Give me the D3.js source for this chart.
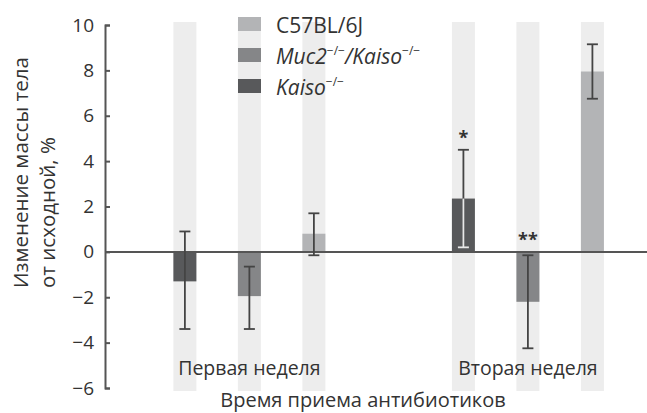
<!DOCTYPE html>
<html>
<head>
<meta charset="utf-8">
<script src="https://cdn.jsdelivr.net/npm/d3@7"></script>
<style>
  body { margin: 0; background: #fff; }
  svg { display: block; font-family: "Open Sans", sans-serif; }
</style>
</head>
<body>
<div id="chart"></div>
<script>
// data
const weeks = ["Первая неделя", "Вторая неделя"];
const series = ["Kaiso", "Muc2/Kaiso", "C57BL/6J"];
const meanKaiso = [-1.3, 2.35];
const meanMuc2Kaiso = [-1.95, -2.2];
const meanC57 = [0.8, 7.95];
const lowKaiso = [-3.4, 0.2];
const highKaiso = [0.9, 4.5];
const lowMuc2Kaiso = [-3.4, -4.25];
const highMuc2Kaiso = [-0.65, -0.15];
const lowC57 = [-0.15, 6.75];
const highC57 = [1.7, 9.15];
const starsKaiso = ["", "*"];
const starsMuc2Kaiso = ["", "**"];
const starsC57 = ["", ""];
const yTicks = [-6, -4, -2, 0, 2, 4, 6, 8, 10];

const colors = {"Kaiso": "#58595b", "Muc2/Kaiso": "#858688", "C57BL/6J": "#b3b4b6"};

const rows = [];
weeks.forEach((w, i) => {
  rows.push({week: w, s: "Kaiso", v: meanKaiso[i], lo: lowKaiso[i], hi: highKaiso[i], star: starsKaiso[i]});
  rows.push({week: w, s: "Muc2/Kaiso", v: meanMuc2Kaiso[i], lo: lowMuc2Kaiso[i], hi: highMuc2Kaiso[i], star: starsMuc2Kaiso[i]});
  rows.push({week: w, s: "C57BL/6J", v: meanC57[i], lo: lowC57[i], hi: highC57[i], star: starsC57[i]});
});

const width = 647, height = 413;
const marginLeft = 105, plotTop = 25, plotBottom = 388;
const barW = 23;

const svg = d3.select("#chart").append("svg")
  .attr("width", width)
  .attr("height", height);

const y = d3.scaleLinear().domain([-6, 10]).range([plotBottom, plotTop]);
const xg = d3.scalePoint().domain(weeks).range([marginLeft, width]).padding(0.473).align(0.548);
const xs = d3.scalePoint().domain(series).range([-64.5, 64.5]);
const cx = d => xg(d.week) + xs(d.s);

// background stripes
svg.append("g").selectAll("rect")
  .data(rows)
  .join("rect")
    .attr("x", d => cx(d) - barW / 2)
    .attr("y", y(10) - 3)
    .attr("width", barW)
    .attr("height", y(-6) - y(10) + 6)
    .attr("fill", "#ededed");

// bars
svg.append("g").selectAll("rect")
  .data(rows)
  .join("rect")
    .attr("x", d => cx(d) - barW / 2)
    .attr("y", d => y(Math.max(0, d.v)))
    .attr("width", barW)
    .attr("height", d => Math.abs(y(d.v) - y(0)))
    .attr("fill", d => colors[d.s]);

// zero line
svg.append("line")
  .attr("x1", marginLeft).attr("x2", width)
  .attr("y1", y(0)).attr("y2", y(0))
  .attr("stroke", "#555").attr("stroke-width", 2);

// error bars
const err = svg.append("g").attr("stroke-width", 1.8);
rows.forEach(d => {
  const x = cx(d);
  // part of the whisker that lies inside a dark bar above zero is drawn light
  const inside = d.s === "Kaiso" && d.v > 0;
  const col = "#444";
  err.append("line").attr("x1", x).attr("x2", x)
    .attr("y1", y(d.hi)).attr("y2", y(d.lo)).attr("stroke", col);
  err.append("line").attr("x1", x - 5.5).attr("x2", x + 5.5)
    .attr("y1", y(d.hi)).attr("y2", y(d.hi)).attr("stroke", col);
  err.append("line").attr("x1", x - 5.5).attr("x2", x + 5.5)
    .attr("y1", y(d.lo)).attr("y2", y(d.lo)).attr("stroke", inside ? "#e8e8e8" : col);
  if (inside) {
    err.append("line").attr("x1", x).attr("x2", x)
      .attr("y1", y(d.v)).attr("y2", y(d.lo)).attr("stroke", "#e8e8e8");
  }
});

// significance stars
svg.append("g").selectAll("text")
  .data(rows.filter(d => d.star))
  .join("text")
    .attr("x", d => cx(d))
    .attr("y", d => Math.min(y(d.hi), y(0)) - 6)
    .attr("text-anchor", "middle")
    .attr("font-size", 18)
    .attr("font-weight", "bold")
    .attr("fill", "#333")
    .text(d => d.star);

// y axis, ticks pointing inward
const yAxis = d3.axisLeft(y).tickValues(yTicks)
  .tickSizeInner(-5).tickSizeOuter(-5).tickPadding(11)
  .tickFormat(d => d < 0 ? "\u2212" + Math.abs(d) : d);
const ga = svg.append("g").attr("transform", `translate(${marginLeft},0)`).call(yAxis);
ga.selectAll("path, line").attr("stroke", "#555").attr("stroke-width", 2);
ga.selectAll("text").attr("font-size", 19).attr("fill", "#333")
  .attr("font-family", "'Open Sans', sans-serif");

// week labels
svg.append("g").selectAll("text")
  .data(weeks)
  .join("text")
    .attr("x", d => xg(d))
    .attr("y", 375)
    .attr("text-anchor", "middle")
    .attr("font-size", 19.5)
    .attr("fill", "#333")
    .text(d => d);

// axis titles
svg.append("text")
  .attr("x", 363).attr("y", 407)
  .attr("text-anchor", "middle")
  .attr("font-size", 20).attr("fill", "#333")
  .text("Время приема антибиотиков");

const yl = svg.append("text")
  .attr("transform", "rotate(-90)")
  .attr("font-size", 20.5).attr("fill", "#333")
  .attr("text-anchor", "start");
yl.append("tspan").attr("x", -288).attr("y", 28).text("Изменение массы тела");
yl.append("tspan").attr("x", -288).attr("y", 55).text("от исходной, %");

// legend
const legendItems = ["C57BL/6J", "Muc2/Kaiso", "Kaiso"];
const lg = svg.append("g").selectAll("g")
  .data(legendItems)
  .join("g")
    .attr("transform", (d, i) => `translate(238,${17 + i * 31})`);
lg.append("rect").attr("width", barW).attr("height", 14).attr("fill", d => colors[d]);
const lt = lg.append("text").attr("x", 38).attr("y", 16)
  .attr("font-size", 21).attr("fill", "#333");
lt.each(function(d) {
  const t = d3.select(this);
  const sup = (sel) => sel.append("tspan").attr("font-size", 12).attr("font-style", "normal")
    .attr("dy", -9).text("\u2212/\u2212");
  if (d === "C57BL/6J") {
    t.text(d);
  } else if (d === "Kaiso") {
    t.append("tspan").attr("font-style", "italic").text("Kaiso");
    sup(t);
  } else {
    t.append("tspan").attr("font-style", "italic").text("Muc2");
    sup(t);
    t.append("tspan").attr("font-style", "italic").attr("dy", 9).text("/Kaiso");
    sup(t);
  }
});
</script>
</body>
</html>
